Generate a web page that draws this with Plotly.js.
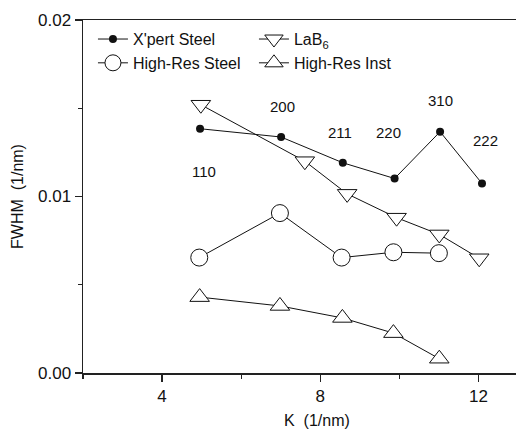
<!DOCTYPE html>
<html>
<head>
<meta charset="utf-8">
<script src="https://cdn.plot.ly/plotly-3.0.1.min.js"></script>
<style>html,body{margin:0;padding:0;background:#fff;overflow:hidden}#chart{width:516px;height:431px}</style>
</head>
<body>
<div id="chart"></div>
<script>
// Data
const xpertK    = [4.96, 7.01, 8.57, 9.88, 11.03, 12.09];
const xpertFWHM = [0.01384, 0.01337, 0.01191, 0.01102, 0.01367, 0.01074];

const lab6K     = [4.98, 7.61, 8.68, 9.93, 11.01, 12.02];
const lab6FWHM  = [0.01520, 0.01200, 0.01015, 0.00880, 0.00785, 0.00650];

const hrSteelK    = [4.94, 6.98, 8.54, 9.85, 11.00];
const hrSteelFWHM = [0.00654, 0.00906, 0.00654, 0.00684, 0.00679];

const hrInstK    = [4.95, 6.98, 8.56, 9.85, 11.01];
const hrInstFWHM = [0.00430, 0.00380, 0.00312, 0.00226, 0.00081];

const hklLabels = ['110', '200', '211', '220', '310', '222'];
const hklK      = [5.05, 7.04, 8.49, 9.73, 11.03, 12.18];
const hklFWHM   = [0.0114, 0.01508, 0.01361, 0.01361, 0.01542, 0.01320];

const FONT = 'Arial, "Liberation Sans", sans-serif';
const INK = '#111';

const lineStyle = {color: INK, width: 1};

const traces = [
  {name: "X'pert Steel", x: xpertK, y: xpertFWHM, mode: 'lines+markers', line: lineStyle,
   marker: {symbol: 'circle', size: 8, color: INK}},
  {name: 'LaB<sub>6</sub>', x: lab6K, y: lab6FWHM, mode: 'lines+markers', line: lineStyle,
   marker: {symbol: 'triangle-down', size: 17, color: '#fff', line: {color: INK, width: 1}}},
  {name: 'High-Res Steel', x: hrSteelK, y: hrSteelFWHM, mode: 'lines+markers', line: lineStyle,
   marker: {symbol: 'circle', size: 17, color: '#fff', line: {color: INK, width: 1}}},
  {name: 'High-Res Inst', x: hrInstK, y: hrInstFWHM, mode: 'lines+markers', line: lineStyle,
   marker: {symbol: 'triangle-up', size: 17, color: '#fff', line: {color: INK, width: 1}}}
];

const annotations = hklLabels.map((t, i) => ({
  x: hklK[i], y: hklFWHM[i], xref: 'x', yref: 'y', text: t, showarrow: false,
  font: {family: FONT, size: 15, color: INK}
}));
annotations.push({
  xref: 'paper', yref: 'paper', x: 0.54, y: -0.135, yanchor: 'middle', xanchor: 'center',
  text: 'K  (1/nm)', showarrow: false, font: {family: FONT, size: 16, color: INK}
});

const layout = {
  width: 516, height: 431,
  margin: {l: 83, r: 0, t: 20, b: 58},
  paper_bgcolor: '#fff', plot_bgcolor: '#fff',
  font: {family: FONT, size: 16, color: INK},
  showlegend: true,
  legend: {
    orientation: 'h', x: 0.023, y: 0.994, xanchor: 'left', yanchor: 'top',
    entrywidth: 116, entrywidthmode: 'pixels',
    font: {family: FONT, size: 16, color: INK},
    bgcolor: 'rgba(0,0,0,0)', borderwidth: 0, tracegroupgap: 0
  },
  xaxis: {
    range: [2, 12.95], tick0: 0, dtick: 4, showgrid: false, zeroline: false,
    showline: true, linecolor: '#222', linewidth: 1.5, mirror: true,
    ticks: 'outside', ticklen: 7, tickwidth: 1.2, tickcolor: '#222',
    tickfont: {family: FONT, size: 17, color: INK},
    minor: {dtick: 2, ticks: 'outside', ticklen: 4, tickwidth: 1.2, tickcolor: '#222', showgrid: false}
  },
  yaxis: {
    range: [0, 0.02], tick0: 0, dtick: 0.01, tickformat: '.2f', showgrid: false, zeroline: false,
    showline: true, linecolor: '#222', linewidth: 1.5,
    ticks: 'outside', ticklen: 7, tickwidth: 1.2, tickcolor: '#222',
    tickfont: {family: FONT, size: 17, color: INK},
    minor: {dtick: 0.005, ticks: 'outside', ticklen: 4, tickwidth: 1.2, tickcolor: '#222', showgrid: false},
    title: {text: 'FWHM  (1/nm)', font: {family: FONT, size: 16, color: INK}, standoff: 10}
  },
  annotations: annotations
};

Plotly.newPlot('chart', traces, layout, {displayModeBar: false, staticPlot: true});
</script>
</body>
</html>
